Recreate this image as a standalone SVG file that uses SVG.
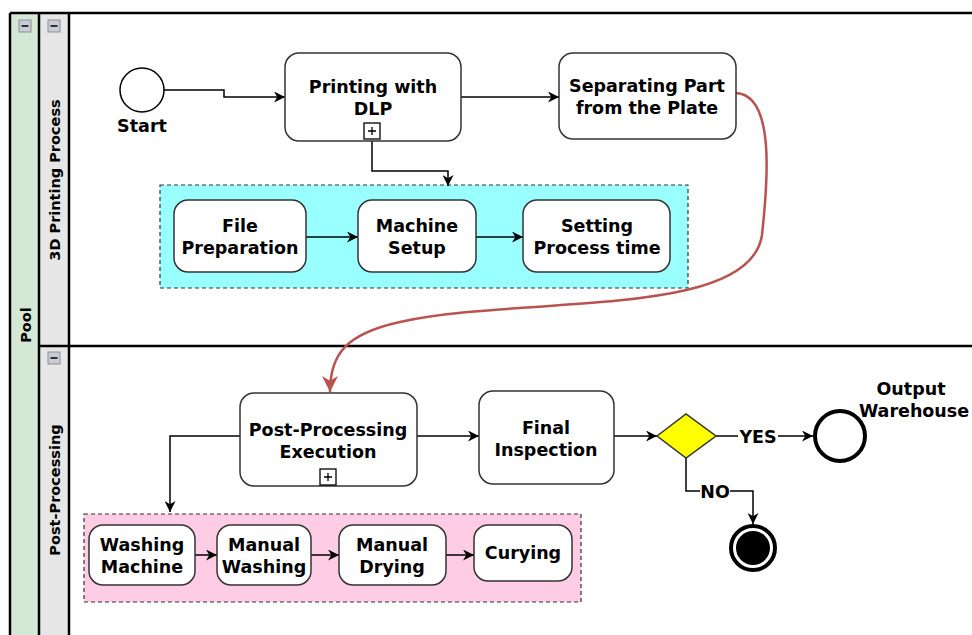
<svg xmlns="http://www.w3.org/2000/svg" width="972" height="635" viewBox="0 0 972 635">
  <defs>
    <marker id="arr" viewBox="0 0 10 10" refX="10" refY="5" markerWidth="11" markerHeight="11" markerUnits="userSpaceOnUse" orient="auto">
      <path d="M0,0 L10,5 L0,10 L3,5 Z" fill="#000"/>
    </marker>
    <marker id="arrRed" viewBox="0 0 10 10" refX="10" refY="5" markerWidth="16" markerHeight="16" markerUnits="userSpaceOnUse" orient="auto">
      <path d="M0,0 L10,5 L0,10 L3,5 Z" fill="#b85450"/>
    </marker>
    <g id="collapse">
      <rect x="0" y="0" width="12" height="12" fill="#c8ccd4" stroke="#8a8f99" stroke-width="1"/>
      <rect x="2.5" y="5" width="7" height="2" fill="#333"/>
    </g>
    <g id="plus">
      <rect x="-8" y="-8" width="16" height="16" fill="#fff" stroke="#000" stroke-width="1.3"/>
      <path d="M-4,0 H4 M0,-4 V4" stroke="#000" stroke-width="1.3"/>
    </g>
  </defs>
  <style>
    .task { fill: #fff; stroke: #333; stroke-width: 1.5; }
    .lbl { font-family: "DejaVu Sans", "Liberation Sans", sans-serif; font-weight: bold; font-size: 17.5px; fill: #000; text-anchor: middle; }
    .lane { font-family: "DejaVu Sans", "Liberation Sans", sans-serif; font-weight: bold; font-size: 14.5px; fill: #000; text-anchor: middle; }
    .edge { fill: none; stroke: #000; stroke-width: 1.5; marker-end: url(#arr); }
    .sub { stroke: #333; stroke-width: 1.2; stroke-dasharray: 4 3; }
  </style>

  <rect width="972" height="635" fill="#fff"/>

  <!-- pool and lanes -->
  <g id="pool">
    <rect x="10" y="13" width="29" height="640" fill="#d5e8d4"/>
    <rect x="39" y="13" width="30" height="640" fill="#e6e6e6"/>
    <path d="M10,13 H972 M10,13 V640 M39,13 V640 M69,13 V640 M39,346 H972" stroke="#000" stroke-width="2.5" fill="none"/>
    <use href="#collapse" x="19" y="20"/>
    <text class="lane" font-size="17" transform="translate(31,325) rotate(-90)">Pool</text>
  </g>
  <g id="lane-printing">
    <use href="#collapse" x="48" y="20"/>
    <text class="lane" transform="translate(60,180) rotate(-90)">3D Printing Process</text>
  </g>
  <g id="lane-post">
    <use href="#collapse" x="48" y="352"/>
    <text class="lane" transform="translate(60,490) rotate(-90)">Post-Processing</text>
  </g>

  <!-- sub-process containers -->
  <g id="sub-printing">
    <rect class="sub" x="160" y="185" width="528" height="103" fill="#99ffff"/>
  </g>
  <g id="sub-post">
    <rect class="sub" x="84" y="514" width="497" height="88" fill="#ffcce6"/>
  </g>

  <!-- connectors -->
  <g id="connectors">
    <path class="edge" d="M164,90 H224 V97 H285"/>
    <path class="edge" d="M461,97 H559"/>
    <path class="edge" d="M372,138 V171 H448 V186"/>
    <path class="edge" d="M306,237 H358"/>
    <path class="edge" d="M476,237 H523"/>
    <path fill="none" stroke="#b85450" stroke-width="2.5" marker-end="url(#arrRed)" d="M736,93 C775,95 768,180 762,235 C750,320 520,295 400,322 C345,334 330,355 330,392"/>
    <path class="edge" d="M417,436 H479"/>
    <path class="edge" d="M614,436 H657"/>
    <path class="edge" d="M716,436 H813"/>
    <path class="edge" d="M686,458 V491 H753 V524"/>
    <path class="edge" d="M240,436 H170 V512"/>
    <path class="edge" d="M195,555 H217"/>
    <path class="edge" d="M311,555 H339"/>
    <path class="edge" d="M446,555 H474"/>
    <rect x="738" y="427" width="40" height="18" fill="#fff"/>
    <text class="lbl" x="758" y="443">YES</text>
    <rect x="700" y="482" width="30" height="18" fill="#fff"/>
    <text class="lbl" x="715" y="498">NO</text>
  </g>

  <!-- nodes -->
  <g id="start">
    <circle cx="142" cy="90" r="22" fill="#fff" stroke="#000" stroke-width="1.5"/>
    <text class="lbl" x="142" y="132">Start</text>
  </g>
  <g id="printing-dlp">
    <rect class="task" x="285" y="53" width="176" height="88" rx="14"/>
    <text class="lbl" x="373" y="93">Printing with</text>
    <text class="lbl" x="373" y="115">DLP</text>
    <use href="#plus" x="372" y="131"/>
  </g>
  <g id="separating">
    <rect class="task" x="559" y="53" width="177" height="86" rx="14"/>
    <text class="lbl" x="647" y="92">Separating Part</text>
    <text class="lbl" x="647" y="114">from the Plate</text>
  </g>
  <g id="file-prep">
    <rect class="task" x="174" y="200" width="132" height="72" rx="14"/>
    <text class="lbl" x="240" y="232">File</text>
    <text class="lbl" x="240" y="254">Preparation</text>
  </g>
  <g id="machine-setup">
    <rect class="task" x="358" y="200" width="118" height="72" rx="14"/>
    <text class="lbl" x="417" y="232">Machine</text>
    <text class="lbl" x="417" y="254">Setup</text>
  </g>
  <g id="process-time">
    <rect class="task" x="523" y="200" width="147" height="72" rx="14"/>
    <text class="lbl" x="597" y="232">Setting</text>
    <text class="lbl" x="597" y="254">Process time</text>
  </g>
  <g id="post-exec">
    <rect class="task" x="240" y="393" width="177" height="93" rx="14"/>
    <text class="lbl" x="328" y="436">Post-Processing</text>
    <text class="lbl" x="328" y="458">Execution</text>
    <use href="#plus" x="328" y="477"/>
  </g>
  <g id="final-inspection">
    <rect class="task" x="479" y="391" width="135" height="93" rx="14"/>
    <text class="lbl" x="546" y="434">Final</text>
    <text class="lbl" x="546" y="456">Inspection</text>
  </g>
  <g id="gateway">
    <path d="M657,436 L686,414 L716,436 L686,458 Z" fill="#ffff00" stroke="#333" stroke-width="1.5"/>
  </g>
  <g id="output-warehouse">
    <circle cx="840" cy="436" r="25" fill="#fff" stroke="#000" stroke-width="4"/>
    <text class="lbl" x="911" y="395">Output</text>
    <text class="lbl" x="914" y="417">Warehouse</text>
  </g>
  <g id="terminate">
    <circle cx="753" cy="548" r="22" fill="#fff" stroke="#000" stroke-width="4"/>
    <circle cx="753" cy="548" r="17" fill="#000"/>
  </g>
  <g id="washing-machine">
    <rect class="task" x="89" y="525" width="106" height="60" rx="14"/>
    <text class="lbl" x="142" y="551">Washing</text>
    <text class="lbl" x="142" y="573">Machine</text>
  </g>
  <g id="manual-washing">
    <rect class="task" x="217" y="525" width="94" height="60" rx="14"/>
    <text class="lbl" x="264" y="551">Manual</text>
    <text class="lbl" x="264" y="573">Washing</text>
  </g>
  <g id="manual-drying">
    <rect class="task" x="339" y="525" width="107" height="60" rx="14"/>
    <text class="lbl" x="392" y="551">Manual</text>
    <text class="lbl" x="392" y="573">Drying</text>
  </g>
  <g id="curying">
    <rect class="task" x="474" y="525" width="98" height="56" rx="14"/>
    <text class="lbl" x="523" y="559">Curying</text>
  </g>
</svg>
